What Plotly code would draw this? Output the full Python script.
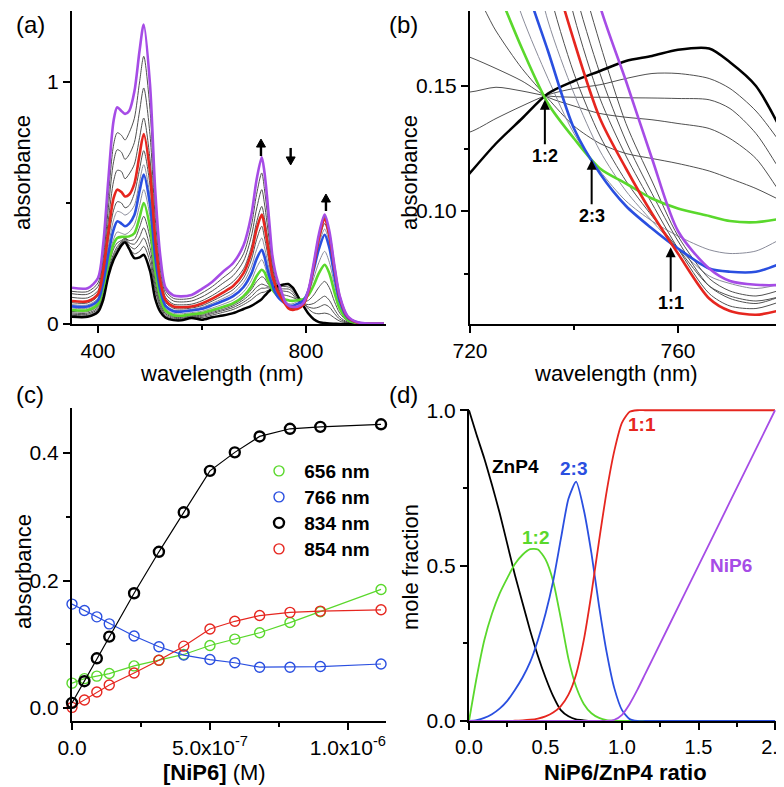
import plotly.graph_objects as go

# ---------------- panel (a)/(b): absorption spectra ----------------
WL = [350, 380, 400, 410, 420, 430, 437, 445, 452, 460,
      470, 480, 488, 500, 510, 520, 530, 545, 560, 580,
      600, 620, 640, 660, 680, 695, 705, 715, 720, 725,
      730, 735, 740, 745, 750, 755, 760, 766, 770, 775,
      780, 785, 795, 805, 815, 825, 836, 845, 855, 865,
      880, 900, 950]

SPEC_BLACK = [0.03, 0.03, 0.05, 0.10, 0.20, 0.265, 0.295, 0.325, 0.338, 0.31,
              0.272, 0.275, 0.286, 0.22, 0.105, 0.05, 0.026, 0.016, 0.015, 0.025,
              0.018, 0.028, 0.035, 0.045, 0.062, 0.075, 0.088, 0.103, 0.1152, 0.127,
              0.137, 0.147, 0.152, 0.156, 0.160, 0.162, 0.1645, 0.165, 0.1595, 0.150,
              0.1319, 0.112, 0.075, 0.042, 0.02, 0.008, 0.004, 0.002, 0.001, 0.0,
              0.0, 0.0, 0.0]
SPEC_G1 = [0.036, 0.035, 0.056, 0.11, 0.205, 0.27, 0.30, 0.33, 0.345, 0.315,
           0.29, 0.30, 0.321, 0.256, 0.14, 0.066, 0.031, 0.02, 0.019, 0.028,
           0.027, 0.037, 0.048, 0.06, 0.08, 0.10, 0.118, 0.13, 0.1316, 0.137,
           0.142, 0.1465, 0.149, 0.1505, 0.153, 0.155, 0.155, 0.153, 0.149, 0.14,
           0.1265, 0.112, 0.087, 0.062, 0.046, 0.042, 0.045, 0.04, 0.025, 0.012,
           0.004, 0.001, 0.0]
SPEC_G2 = [0.041, 0.04, 0.062, 0.12, 0.215, 0.28, 0.31, 0.335, 0.35, 0.325,
           0.31, 0.33, 0.355, 0.284, 0.156, 0.075, 0.036, 0.024, 0.023, 0.031,
           0.032, 0.043, 0.055, 0.068, 0.09, 0.113, 0.135, 0.148, 0.1476, 0.1495,
           0.148, 0.146, 0.1455, 0.1455, 0.1453, 0.1452, 0.145, 0.1445, 0.141, 0.131,
           0.1152, 0.10, 0.085, 0.07, 0.065, 0.07, 0.08, 0.07, 0.043, 0.02,
           0.006, 0.001, 0.0]
SPEC_G3 = [0.046, 0.045, 0.068, 0.13, 0.225, 0.29, 0.32, 0.34, 0.355, 0.335,
           0.33, 0.36, 0.397, 0.317, 0.176, 0.085, 0.042, 0.028, 0.027, 0.034,
           0.036, 0.048, 0.06, 0.075, 0.10, 0.128, 0.152, 0.165, 0.1615, 0.157,
           0.152, 0.1455, 0.142, 0.139, 0.1375, 0.1365, 0.135, 0.133, 0.129, 0.121,
           0.1065, 0.094, 0.085, 0.08, 0.085, 0.10, 0.115, 0.098, 0.06, 0.029,
           0.008, 0.002, 0.0]
SPEC_G4 = [0.052, 0.051, 0.075, 0.14, 0.235, 0.31, 0.335, 0.345, 0.355, 0.345,
           0.35, 0.40, 0.445, 0.356, 0.198, 0.096, 0.048, 0.032, 0.031, 0.038,
           0.041, 0.053, 0.066, 0.081, 0.108, 0.142, 0.175, 0.195, 0.19, 0.172,
           0.157, 0.145, 0.134, 0.127, 0.123, 0.121, 0.119, 0.116, 0.113, 0.109,
           0.104, 0.099, 0.092, 0.098, 0.12, 0.152, 0.176, 0.15, 0.092, 0.045,
           0.012, 0.002, 0.0]
SPEC_GREEN = [0.058, 0.057, 0.082, 0.15, 0.25, 0.33, 0.355, 0.36, 0.36, 0.362,
              0.375, 0.44, 0.50, 0.40, 0.222, 0.108, 0.055, 0.036, 0.034, 0.04,
              0.045, 0.057, 0.07, 0.086, 0.115, 0.155, 0.197, 0.224, 0.215, 0.19,
              0.165, 0.143, 0.129, 0.117, 0.111, 0.105, 0.101, 0.098, 0.096, 0.0955,
              0.097, 0.099, 0.103, 0.12, 0.16, 0.21, 0.245, 0.21, 0.13, 0.063,
              0.017, 0.003, 0.001]
SPEC_G5 = [0.066, 0.065, 0.09, 0.16, 0.265, 0.35, 0.38, 0.375, 0.37, 0.38,
           0.41, 0.49, 0.555, 0.444, 0.247, 0.122, 0.063, 0.044, 0.042, 0.047,
           0.053, 0.066, 0.081, 0.099, 0.133, 0.18, 0.232, 0.266, 0.245, 0.21,
           0.178, 0.153, 0.131, 0.116, 0.104, 0.096, 0.09, 0.0845, 0.083, 0.084,
           0.089, 0.094, 0.104, 0.13, 0.19, 0.255, 0.30, 0.255, 0.16, 0.077,
           0.021, 0.004, 0.001]
SPEC_BLUE = [0.073, 0.072, 0.098, 0.17, 0.29, 0.39, 0.424, 0.415, 0.404, 0.415,
             0.45, 0.55, 0.617, 0.494, 0.277, 0.138, 0.074, 0.053, 0.051, 0.056,
             0.063, 0.078, 0.095, 0.115, 0.153, 0.208, 0.268, 0.307, 0.28, 0.235,
             0.195, 0.164, 0.133, 0.115, 0.102, 0.093, 0.085, 0.077, 0.0757, 0.0757,
             0.0792, 0.084, 0.097, 0.14, 0.225, 0.31, 0.369, 0.315, 0.195, 0.095,
             0.026, 0.005, 0.001]
SPEC_G6 = [0.08, 0.079, 0.106, 0.185, 0.32, 0.43, 0.465, 0.46, 0.45, 0.46,
           0.49, 0.59, 0.658, 0.528, 0.296, 0.148, 0.08, 0.058, 0.056, 0.06,
           0.069, 0.086, 0.105, 0.128, 0.172, 0.236, 0.307, 0.355, 0.32, 0.27,
           0.22, 0.176, 0.147, 0.124, 0.108, 0.096, 0.085, 0.074, 0.071, 0.069,
           0.071, 0.075, 0.09, 0.14, 0.235, 0.33, 0.392, 0.333, 0.207, 0.10,
           0.028, 0.005, 0.001]
SPEC_G7 = [0.088, 0.087, 0.115, 0.20, 0.35, 0.47, 0.505, 0.50, 0.48, 0.49,
           0.54, 0.64, 0.716, 0.574, 0.322, 0.16, 0.089, 0.065, 0.062, 0.066,
           0.076, 0.095, 0.117, 0.142, 0.19, 0.265, 0.348, 0.404, 0.36, 0.305,
           0.245, 0.19, 0.155, 0.13, 0.112, 0.098, 0.085, 0.07, 0.066, 0.064,
           0.066, 0.07, 0.085, 0.14, 0.24, 0.345, 0.415, 0.352, 0.218, 0.106,
           0.029, 0.005, 0.001]
SPEC_RED = [0.095, 0.094, 0.124, 0.22, 0.38, 0.52, 0.555, 0.545, 0.527, 0.535,
            0.58, 0.70, 0.785, 0.629, 0.352, 0.175, 0.098, 0.072, 0.069, 0.072,
            0.085, 0.105, 0.13, 0.157, 0.21, 0.295, 0.39, 0.452, 0.41, 0.345,
            0.275, 0.205, 0.168, 0.137, 0.117, 0.099, 0.083, 0.065, 0.06, 0.0585,
            0.0605, 0.064, 0.08, 0.135, 0.24, 0.355, 0.432, 0.367, 0.228, 0.11,
            0.03, 0.005, 0.001]
SPEC_G8 = [0.11, 0.108, 0.138, 0.245, 0.43, 0.59, 0.635, 0.63, 0.60, 0.62,
           0.66, 0.77, 0.851, 0.682, 0.383, 0.193, 0.11, 0.082, 0.079, 0.082,
           0.096, 0.118, 0.145, 0.175, 0.228, 0.318, 0.42, 0.486, 0.44, 0.375,
           0.30, 0.225, 0.178, 0.145, 0.122, 0.103, 0.085, 0.067, 0.062, 0.061,
           0.0639, 0.067, 0.082, 0.138, 0.245, 0.362, 0.44, 0.374, 0.232, 0.112,
           0.031, 0.006, 0.002]
SPEC_G9 = [0.125, 0.123, 0.155, 0.27, 0.48, 0.67, 0.72, 0.71, 0.68, 0.70,
           0.75, 0.88, 0.975, 0.783, 0.44, 0.222, 0.125, 0.095, 0.091, 0.095,
           0.112, 0.137, 0.168, 0.20, 0.26, 0.362, 0.475, 0.555, 0.50, 0.42,
           0.335, 0.245, 0.19, 0.155, 0.128, 0.107, 0.088, 0.07, 0.065, 0.063,
           0.0659, 0.069, 0.083, 0.139, 0.247, 0.366, 0.445, 0.378, 0.234, 0.114,
           0.032, 0.006, 0.002]
SPEC_G10 = [0.135, 0.134, 0.17, 0.30, 0.53, 0.74, 0.79, 0.78, 0.76, 0.79,
            0.85, 1.0, 1.106, 0.887, 0.498, 0.25, 0.138, 0.106, 0.102, 0.107,
            0.128, 0.155, 0.19, 0.225, 0.29, 0.405, 0.535, 0.624, 0.56, 0.47,
            0.37, 0.265, 0.205, 0.167, 0.135, 0.112, 0.09, 0.073, 0.068, 0.066,
            0.0685, 0.071, 0.085, 0.14, 0.25, 0.37, 0.449, 0.38, 0.236, 0.115,
            0.032, 0.006, 0.002]
SPEC_PURPLE = [0.15, 0.148, 0.19, 0.33, 0.60, 0.84, 0.895, 0.88, 0.868, 0.88,
               0.96, 1.13, 1.237, 0.991, 0.555, 0.278, 0.15, 0.118, 0.114, 0.12,
               0.145, 0.175, 0.215, 0.252, 0.325, 0.45, 0.595, 0.689, 0.63, 0.53,
               0.41, 0.29, 0.225, 0.182, 0.152, 0.121, 0.092, 0.077, 0.072, 0.0705,
               0.0705, 0.072, 0.087, 0.142, 0.252, 0.372, 0.452, 0.384, 0.238, 0.116,
               0.033, 0.007, 0.002]

# ---------------- panel (c): titration traces ----------------
CONC = [0, 0.45e-7, 0.9e-7, 1.35e-7, 2.25e-7, 3.15e-7, 4.05e-7,
        5.0e-7, 5.9e-7, 6.8e-7, 7.9e-7, 9.0e-7, 11.2e-7]
A656 = [0.039, 0.046, 0.050, 0.054, 0.066, 0.075, 0.084, 0.098, 0.108, 0.118, 0.134, 0.151, 0.186]
A766 = [0.163, 0.153, 0.143, 0.132, 0.113, 0.096, 0.083, 0.076, 0.071, 0.064, 0.064, 0.065, 0.069]
A834 = [0.008, 0.042, 0.078, 0.112, 0.180, 0.245, 0.307, 0.372, 0.401, 0.426, 0.438, 0.441, 0.445]
A854 = [0.001, 0.0125, 0.025, 0.036, 0.055, 0.075, 0.097, 0.124, 0.136, 0.145, 0.150, 0.152, 0.154]
LEGEND_C = ["656 nm", "766 nm", "834 nm", "854 nm"]

# ---------------- panel (d): speciation ----------------
RATIO = [0.0, 0.05, 0.1, 0.15, 0.2, 0.25, 0.3, 0.35, 0.4, 0.45,
         0.5, 0.55, 0.6, 0.65, 0.7, 0.75, 0.8, 0.85, 0.9, 0.95,
         1.0, 1.05, 1.1, 1.15, 1.2, 1.4, 1.6, 1.8, 2.0]
FR_ZNP4 = [1.0, 0.92, 0.845, 0.76, 0.67, 0.57, 0.47, 0.38, 0.29, 0.21,
           0.14, 0.08, 0.035, 0.015, 0.005, 0.002, 0.0, 0.0, 0.0, 0.0,
           0.0, 0.0, 0.0, 0.0, 0.0, 0.0, 0.0, 0.0, 0.0]
FR_12 = [0.0, 0.14, 0.26, 0.345, 0.41, 0.46, 0.505, 0.535, 0.553, 0.552,
         0.52, 0.45, 0.33, 0.2, 0.11, 0.055, 0.025, 0.01, 0.003, 0.001,
         0.0, 0.0, 0.0, 0.0, 0.0, 0.0, 0.0, 0.0, 0.0]
FR_23 = [0.0, 0.003, 0.01, 0.022, 0.04, 0.065, 0.1, 0.14, 0.19, 0.26,
         0.345, 0.45, 0.585, 0.715, 0.77, 0.68, 0.54, 0.37, 0.22, 0.105,
         0.035, 0.006, 0.0, 0.0, 0.0, 0.0, 0.0, 0.0, 0.0]
FR_11 = [0.0, 0.0, 0.0, 0.0, 0.0, 0.0, 0.001, 0.002, 0.004, 0.008,
         0.015, 0.027, 0.048, 0.085, 0.15, 0.26, 0.41, 0.58, 0.74, 0.87,
         0.96, 0.995, 1.0, 1.0, 1.0, 1.0, 1.0, 1.0, 1.0]
FR_NIP6 = [0.0, 0.0, 0.0, 0.0, 0.0, 0.0, 0.0, 0.0, 0.0, 0.0,
           0.0, 0.0, 0.0, 0.0, 0.0, 0.0, 0.0, 0.0, 0.0, 0.004,
           0.02, 0.055, 0.1, 0.15, 0.2, 0.4, 0.6, 0.8, 1.0]

for s in [SPEC_BLACK, SPEC_G1, SPEC_G2, SPEC_G3, SPEC_G4, SPEC_GREEN, SPEC_G5, SPEC_BLUE,
          SPEC_G6, SPEC_G7, SPEC_RED, SPEC_G8, SPEC_G9, SPEC_G10, SPEC_PURPLE]:
    assert len(s) == len(WL), len(s)
for s in [FR_ZNP4, FR_12, FR_23, FR_11, FR_NIP6]:
    assert len(s) == len(RATIO), len(s)

# ---------------- styling ----------------
W, H = 784, 787
FONT = "Liberation Sans, Arial, sans-serif"
C_GREEN = "#5ad82c"
C_BLUE = "#2a4fe0"
C_RED = "#e6261f"
C_PURPLE = "#a64ce6"
C_GRAY = "#505050"
C_LGRAY = "#8a8c9a"


def px(x):
    return x / W


def py(y):
    return 1 - y / H


fig = go.Figure()

gray_specs = [(SPEC_G1, C_GRAY), (SPEC_G2, C_GRAY), (SPEC_G3, C_GRAY), (SPEC_G4, C_GRAY),
              (SPEC_G5, C_LGRAY), (SPEC_G6, C_LGRAY), (SPEC_G7, C_GRAY),
              (SPEC_G8, C_GRAY), (SPEC_G9, C_GRAY), (SPEC_G10, C_GRAY)]
main_specs = [(SPEC_BLACK, "black", 2.5), (SPEC_GREEN, C_GREEN, 2.6),
              (SPEC_BLUE, C_BLUE, 2.6), (SPEC_RED, C_RED, 2.6), (SPEC_PURPLE, C_PURPLE, 2.6)]

for xa, ya in [("x", "y"), ("x2", "y2")]:
    for spec, col in gray_specs:
        fig.add_trace(go.Scatter(x=WL, y=spec, mode="lines", xaxis=xa, yaxis=ya,
                                 line=dict(color=col, width=1, shape="spline", smoothing=0.8),
                                 showlegend=False, hoverinfo="skip"))
    for spec, col, w in main_specs:
        fig.add_trace(go.Scatter(x=WL, y=spec, mode="lines", xaxis=xa, yaxis=ya,
                                 line=dict(color=col, width=w, shape="spline", smoothing=0.8),
                                 showlegend=False, hoverinfo="skip"))

# panel (c)
c_series = [(A656, C_GREEN, 1.4), (A766, C_BLUE, 1.4), (A854, C_RED, 1.4), (A834, "black", 2.4)]
for ys, col, mw in c_series:
    fig.add_trace(go.Scatter(x=CONC, y=ys, mode="lines+markers", xaxis="x3", yaxis="y3",
                             line=dict(color=col, width=1.2),
                             marker=dict(symbol="circle-open", size=10, color=col,
                                         line=dict(width=mw, color=col)),
                             cliponaxis=False, showlegend=False, hoverinfo="skip"))

# legend of panel (c): one single-entry legend per row
LEG_ROWS_Y = [463, 489, 515, 541]
legend_ids = ["legend", "legend2", "legend3", "legend4"]
for name, col, mw, lid in zip(LEGEND_C, [C_GREEN, C_BLUE, "black", C_RED], [1.4, 1.4, 2.4, 1.4], legend_ids):
    fig.add_trace(go.Scatter(x=[None], y=[None], mode="markers", xaxis="x3", yaxis="y3",
                             name=" " + name, legend=lid,
                             marker=dict(symbol="circle-open", size=10, color=col,
                                         line=dict(width=mw, color=col)),
                             showlegend=True))

# panel (d)
for ys, col in [(FR_ZNP4, "black"), (FR_12, C_GREEN), (FR_23, C_BLUE), (FR_11, C_RED), (FR_NIP6, C_PURPLE)]:
    fig.add_trace(go.Scatter(x=RATIO, y=ys, mode="lines", xaxis="x4", yaxis="y4",
                             line=dict(color=col, width=1.8, shape="spline", smoothing=0.6),
                             showlegend=False, hoverinfo="skip"))


def ax(domain, rng, tv, tt, minor_vals, anchor, fsize=21):
    return dict(domain=domain, range=rng, tickmode="array", tickvals=tv, ticktext=tt,
                showline=True, linecolor="black", linewidth=2, ticks="outside", ticklen=7,
                tickwidth=2, tickcolor="black", showgrid=False, zeroline=False,
                tickfont=dict(family=FONT, size=fsize, color="black"),
                anchor=anchor, automargin=False,
                minor=dict(tickmode="array", tickvals=minor_vals, ticks="outside", ticklen=4,
                           tickwidth=2, tickcolor="black", showgrid=False))


dA_x = [px(64), px(378)]
dA_y = [py(316), py(3)]
dB_x = [px(462), px(775)]
dC_y = [py(713), py(400)]
dD_x = [px(461), px(775)]
dD_y = [py(713), py(401)]

legend_layout = {}
for lid, yrow in zip(legend_ids, LEG_ROWS_Y):
    legend_layout[lid] = dict(x=px(251), y=py(yrow), xanchor="left", yanchor="middle",
                              bgcolor="rgba(0,0,0,0)",
                              font=dict(family=FONT, size=19, color="black", weight="bold"))

fig.update_layout(
    width=W, height=H, autosize=False,
    margin=dict(l=0, r=0, t=0, b=0, pad=0, autoexpand=False),
    paper_bgcolor="white", plot_bgcolor="white",
    font=dict(family=FONT, color="black"),
    xaxis=ax(dA_x, [350, 954], [400, 800], ["400", "800"], [600], "y"),
    yaxis=ax(dA_y, [0, 1.293], [0, 1], ["0", "1"], [0.5], "x"),
    xaxis2=ax(dB_x, [720, 780.2], [720, 760], ["720", "760"], [740], "y2"),
    yaxis2=ax(dA_y, [0.0548, 0.18], [0.10, 0.15], ["0.10", "0.15"], [0.075, 0.125], "x2"),
    xaxis3=ax(dA_x, [0, 1.138e-6], [0, 5e-7, 1e-6],
              ["0.0", "5.0x10<sup>-7</sup>", "1.0x10<sup>-6</sup>"], [2.5e-7, 7.5e-7], "y3"),
    yaxis3=ax(dC_y, [-0.0204, 0.4706], [0, 0.2, 0.4], ["0.0", "0.2", "0.4"], [0.1, 0.3], "x3"),
    xaxis4=ax(dD_x, [0, 2.052], [0, 0.5, 1.0, 1.5, 2.0], ["0.0", "0.5", "1.0", "1.5", "2.0"],
              [0.25, 0.75, 1.25, 1.75], "y4", fsize=20),
    yaxis4=ax(dD_y, [0, 1.004], [0, 0.5, 1.0], ["0.0", "0.5", "1.0"], [0.25, 0.75], "x4"),
    **legend_layout,
)

anns = []


def txt(x, y, t, size=22, rot=0, bold=False, color="black"):
    anns.append(dict(x=px(x), y=py(y), xref="paper", yref="paper", text=t, showarrow=False,
                     textangle=rot, xanchor="center", yanchor="middle",
                     font=dict(family=FONT, size=size, color=color,
                               weight="bold" if bold else "normal")))


txt(22, 17, "(a)", 24)
txt(396, 17, "(b)", 24)
txt(22, 386, "(c)", 24)
txt(396, 386, "(d)", 24)
txt(214, 366, "wavelength (nm)")
txt(608, 366, "wavelength (nm)")
txt(15, 165, "absorbance", rot=-90)
txt(402, 165, "absorbance", rot=-90)
txt(15, 564, "absorbance", rot=-90)
txt(402, 559, "mole fraction", rot=-90)
txt(207, 764, "<b>[NiP6]</b> (M)")
txt(617, 764, "NiP6/ZnP4 ratio", bold=True)

# panel (d) species labels
for x, y, t, col in [(0.307, 0.82, "ZnP4", "black"), (0.68, 0.813, "2:3", C_BLUE),
                     (0.437, 0.592, "1:2", C_GREEN), (1.13, 0.955, "1:1", C_RED),
                     (1.709, 0.501, "NiP6", C_PURPLE)]:
    anns.append(dict(x=x, y=y, xref="x4", yref="y4", text=t, showarrow=False,
                     font=dict(family=FONT, size=19, color=col, weight="bold")))

# panel (b) arrows with labels
for x, y, t in [(734.4, 0.1445, "1:2"), (743.4, 0.1205, "2:3"), (758.6, 0.0855, "1:1")]:
    anns.append(dict(x=x, y=y, xref="x2", yref="y2", text=t, showarrow=True, ax=0, ay=56,
                     arrowhead=2, arrowsize=1, arrowwidth=2, arrowcolor="black",
                     font=dict(family=FONT, size=18, color="black", weight="bold")))

shapes = []
# panel (a) arrows: shaft + head drawn in pixels around a data anchor
for x, y, up in [(713.5, 0.764, True), (838.5, 0.537, True), (770.6, 0.657, False)]:
    s = 1 if up else -1
    shapes.append(dict(type="path", xref="x", yref="y", xsizemode="pixel", ysizemode="pixel",
                       xanchor=x, yanchor=y,
                       path=f"M 0,{-s*5} L 0,{-s*17}",
                       line=dict(color="black", width=2.4)))
    shapes.append(dict(type="path", xref="x", yref="y", xsizemode="pixel", ysizemode="pixel",
                       xanchor=x, yanchor=y,
                       path=f"M -4.5,{-s*8} L 4.5,{-s*8} L 0,0 Z",
                       fillcolor="black", line=dict(color="black", width=1)))

fig.update_layout(annotations=anns, shapes=shapes)
fig.write_html("out.html")
